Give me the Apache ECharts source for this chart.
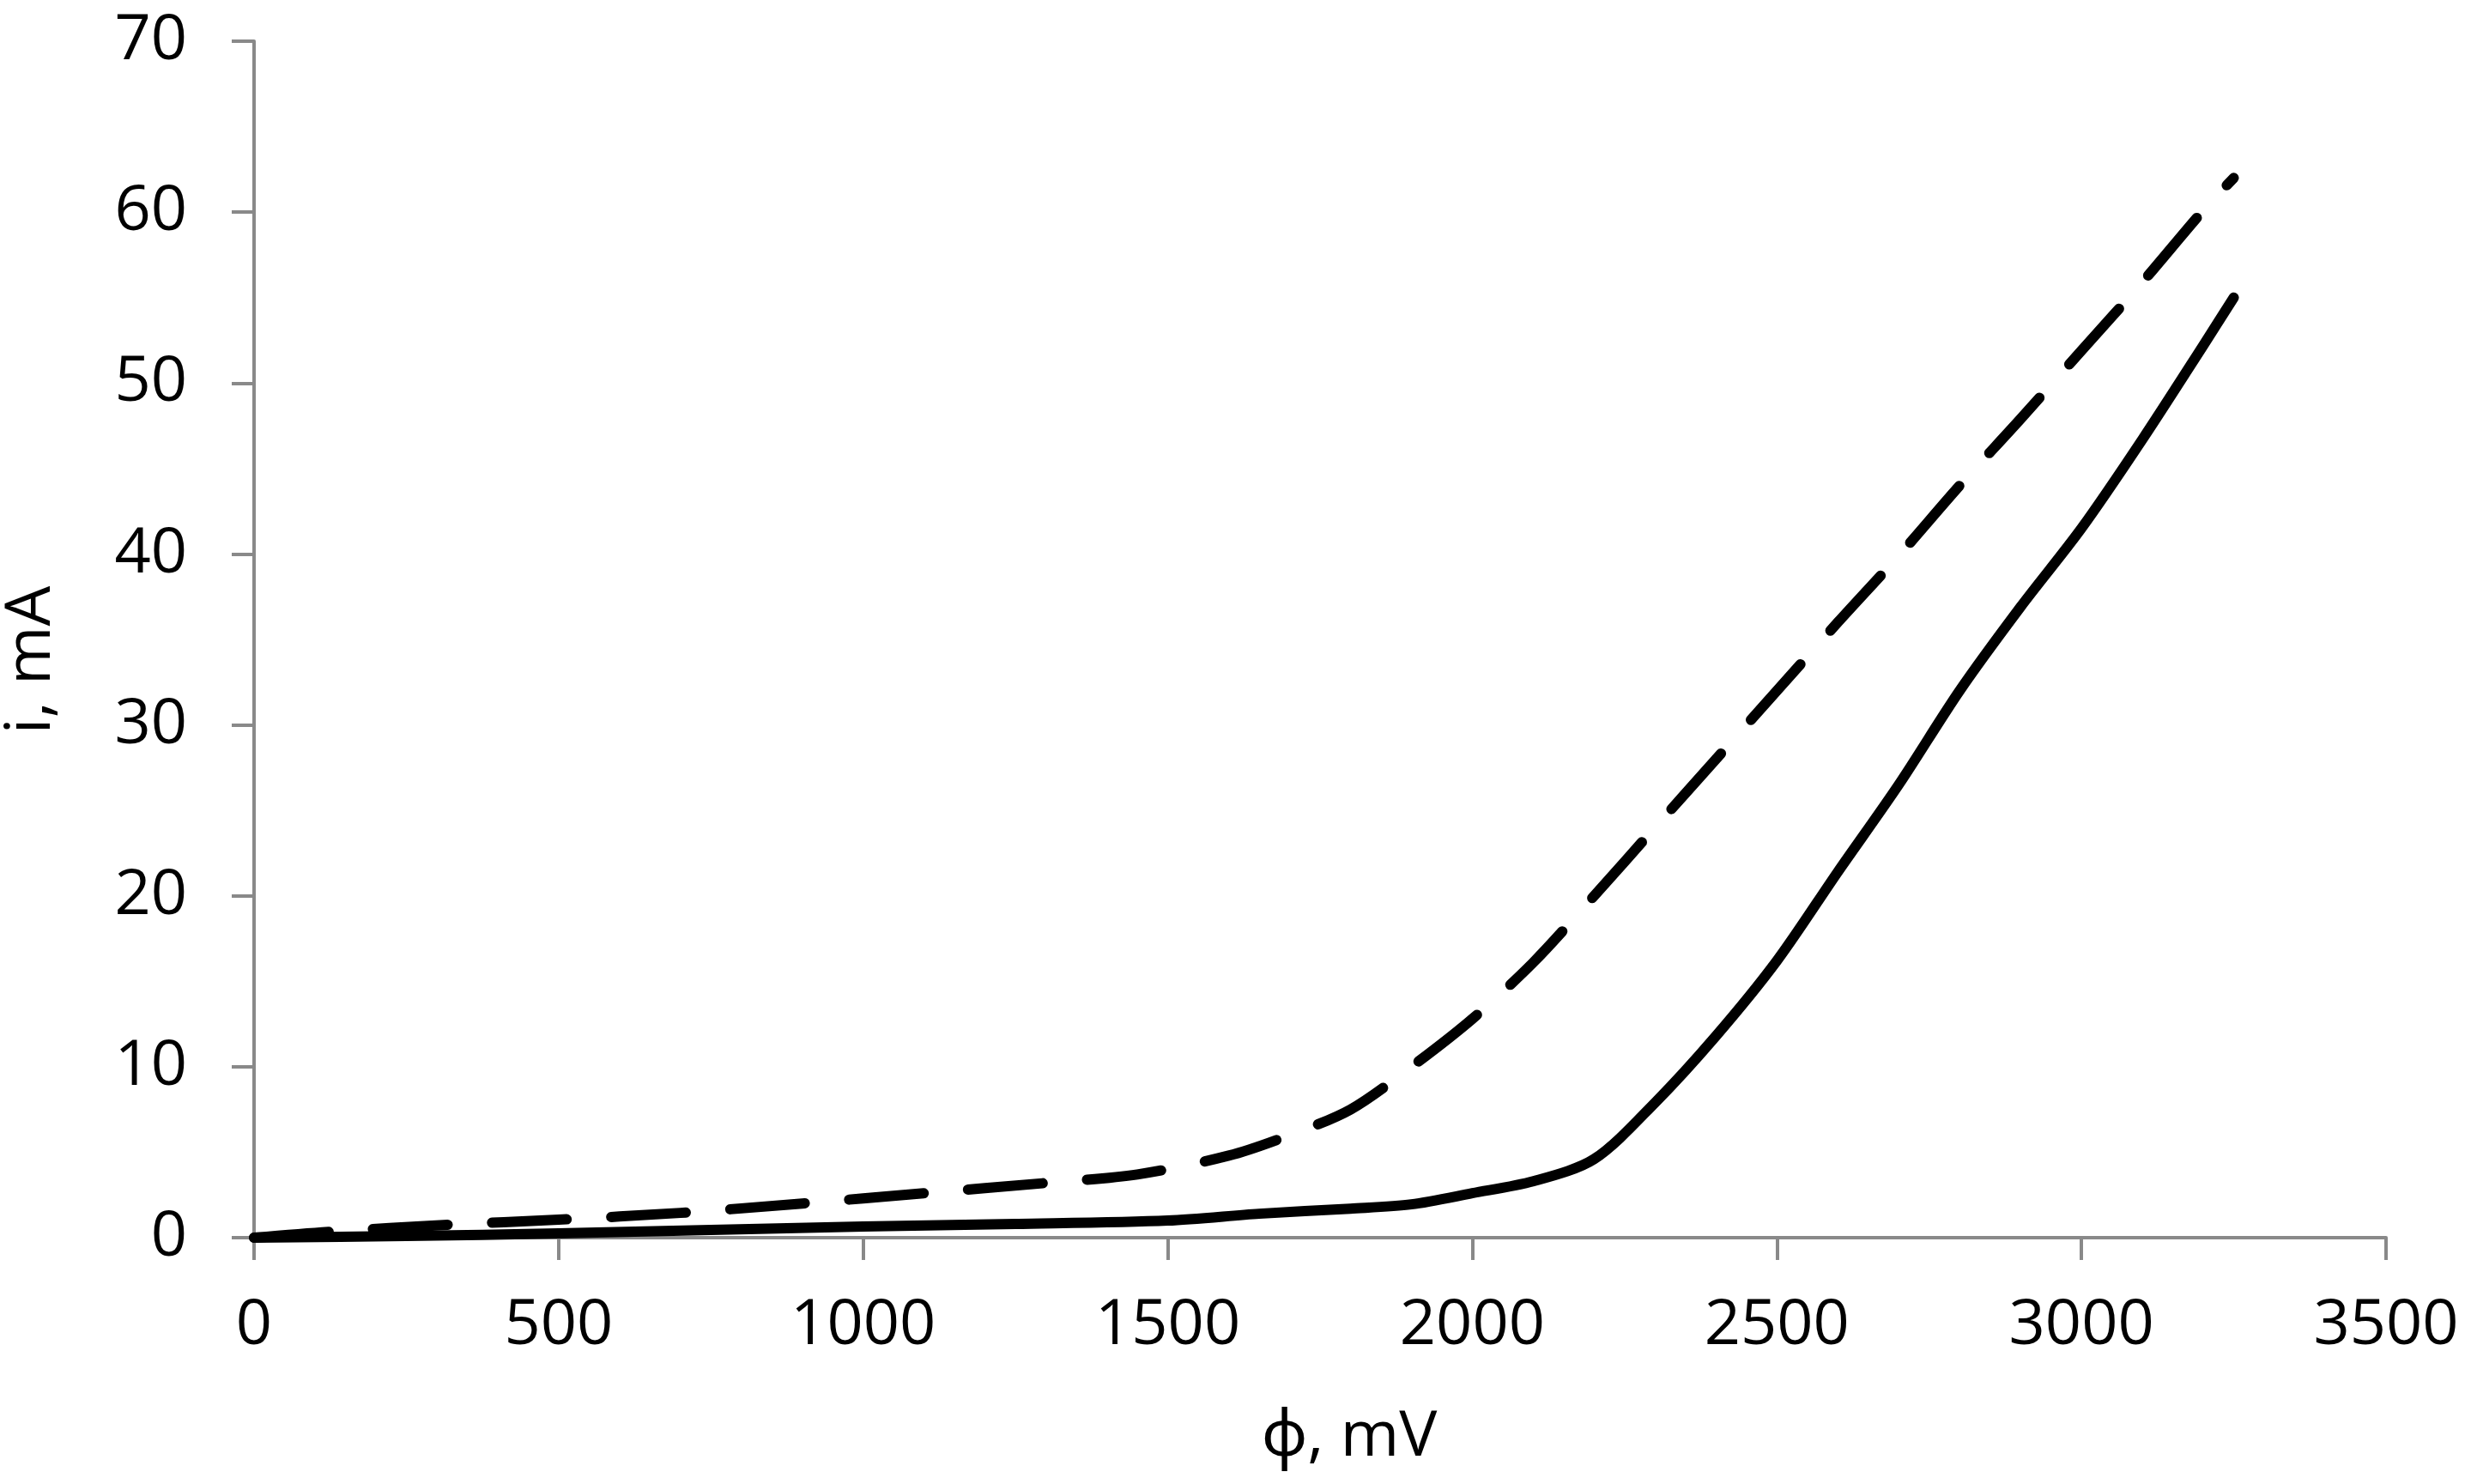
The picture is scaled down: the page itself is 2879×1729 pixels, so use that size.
<!DOCTYPE html>
<html>
<head>
<meta charset="utf-8">
<script src="https://cdn.jsdelivr.net/npm/echarts@6/dist/echarts.min.js"></script>
<style>
html,body{margin:0;padding:0;background:#fff;}
#chart{width:2879px;height:1729px;}
</style>
</head>
<body>
<div id="chart"></div>
<script>
// Solid curve: [phi (mV), i (mA)]
var solidPhi = [0, 250, 500, 750, 1000, 1250, 1500, 1650, 1800, 1900, 2000, 2100, 2200, 2300, 2400, 2500, 2600, 2700, 2800, 2900, 3000, 3100, 3200, 3250];
var solidI   = [0, 0.1, 0.25, 0.45, 0.65, 0.8, 1.0, 1.4, 1.7, 1.95, 2.6, 3.3, 4.6, 7.9, 11.8, 16.2, 21.4, 26.5, 32.0, 36.9, 41.5, 46.7, 52.2, 55.0];
// Dashed curve
var dashPhi = [0, 125, 320, 500, 700, 900, 1100, 1300, 1450, 1600, 1700, 1800, 1900, 2000, 2100, 2200, 2300, 2400, 2500, 2600, 2700, 2800, 2900, 3000, 3100, 3200, 3250];
var dashI   = [0, 0.35, 0.76, 1.05, 1.45, 2.0, 2.6, 3.2, 3.7, 4.8, 6.0, 7.5, 10.0, 12.8, 16.1, 20.0, 24.0, 28.0, 32.0, 36.0, 39.9, 44.0, 47.9, 51.9, 55.9, 60.1, 62.0];
var xName = 'ϕ, mV';
var yName = 'i, mA';

function pairs(xs, ys){ return xs.map(function(x,i){ return [x, ys[i]]; }); }

var FONT = '"Open Sans", "Noto Sans", sans-serif';
var axisGray = '#898989';
var chart = echarts.init(document.getElementById('chart'), null, {renderer:'canvas'});
chart.setOption({
  animation: false,
  backgroundColor: '#ffffff',
  grid: {left: 296, right: 99, top: 48, bottom: 287, containLabel: false, outerBoundsMode: 'none'},
  xAxis: {
    type: 'value', min: 0, max: 3500, interval: 500,
    name: xName, nameLocation: 'middle', nameGap: 196,
    nameTextStyle: {fontFamily: FONT, fontSize: 74, color: '#000', padding: [0,0,0,68]},
    axisLine: {show: true, onZero: false, lineStyle: {color: axisGray, width: 4}},
    axisTick: {show: true, inside: false, length: 26, lineStyle: {color: axisGray, width: 4}},
    axisLabel: {fontFamily: FONT, fontSize: 74, color: '#000', margin: 66, formatter: function(v){ return String(v); }},
    splitLine: {show: false}
  },
  yAxis: {
    type: 'value', min: 0, max: 70, interval: 10,
    name: yName, nameLocation: 'middle', nameGap: 222, nameRotate: 90,
    nameTextStyle: {fontFamily: FONT, fontSize: 74, color: '#000', padding: [0,48,0,0]},
    axisLine: {show: true, onZero: false, lineStyle: {color: axisGray, width: 4}},
    axisTick: {show: true, inside: false, length: 26, lineStyle: {color: axisGray, width: 4}},
    axisLabel: {fontFamily: FONT, fontSize: 74, color: '#000', margin: 78, formatter: function(v){ return String(v); }},
    splitLine: {show: false}
  },
  series: [
    {
      type: 'line', name: 'solid', data: pairs(solidPhi, solidI), smooth: 0.3,
      showSymbol: false, symbol: 'none',
      lineStyle: {color: '#000', width: 12, type: 'solid', cap: 'round', join: 'round'}
    },
    {
      type: 'line', name: 'dashed', data: pairs(dashPhi, dashI), smooth: 0.3,
      showSymbol: false, symbol: 'none',
      lineStyle: {color: '#000', width: 12, type: [87, 52], cap: 'round', join: 'round'}
    }
  ]
});
</script>
</body>
</html>
